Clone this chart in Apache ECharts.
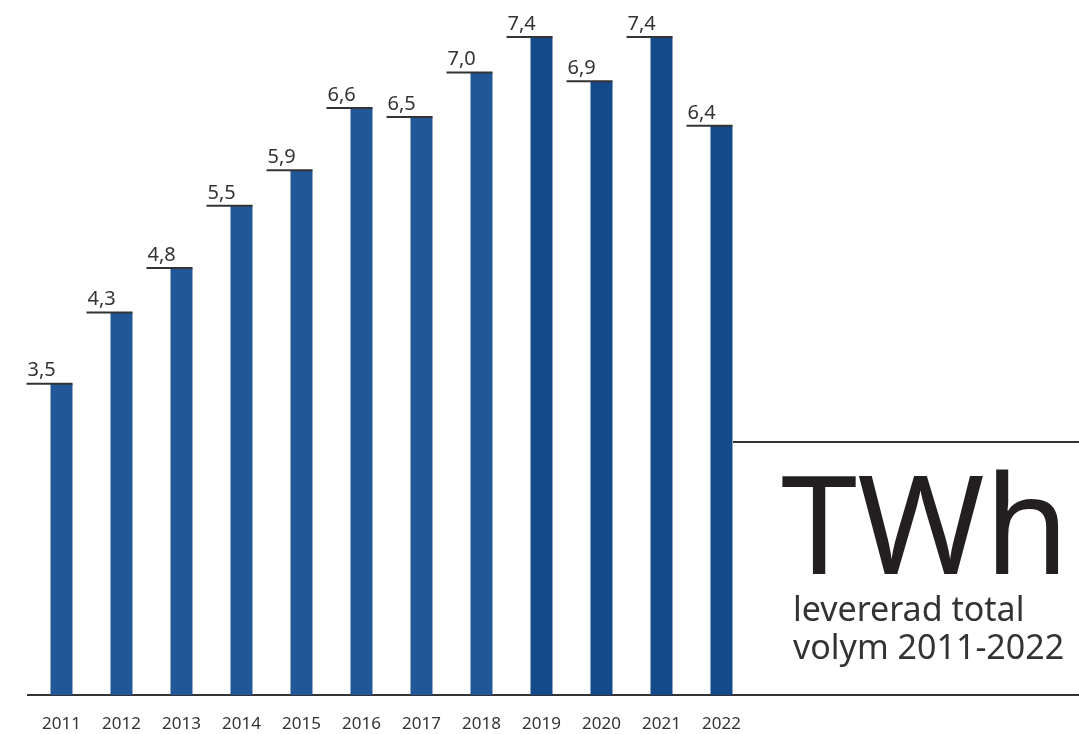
<!DOCTYPE html>
<html>
<head>
<meta charset="utf-8">
<script src="https://cdn.jsdelivr.net/npm/echarts@6/dist/echarts.min.js"></script>
<style>
  html, body { margin: 0; padding: 0; background: #fff; }
  #chart { width: 1079px; height: 734px; }
</style>
</head>
<body>
<div id="chart"></div>
<script>
  // levererad total volym, TWh
  var years = ['2011', '2012', '2013', '2014', '2015', '2016', '2017', '2018', '2019', '2020', '2021', '2022'];
  var volume = [3.5, 4.3, 4.8, 5.5, 5.9, 6.6, 6.5, 7.0, 7.4, 6.9, 7.4, 6.4];

  var lightBlue = '#215797';
  var darkBlue = '#154a8a';
  var ink = '#333333';

  var myChart = echarts.init(document.getElementById('chart'));
  myChart.setOption({
    animation: false,
    grid: { left: 31.5, right: 327.5, top: 28, bottom: 39 },
    xAxis: {
      type: 'category',
      data: years,
      axisLine: { show: false },
      axisTick: { show: false },
      axisLabel: {
        color: ink,
        fontSize: 17,
        fontFamily: 'Noto Sans',
        margin: 21
      }
    },
    yAxis: {
      type: 'value',
      min: 0,
      max: 7.5,
      show: false,
      splitLine: { show: false }
    },
    series: [
      {
        type: 'bar',
        data: volume,
        barWidth: 22,
        itemStyle: {
          color: function (p) { return p.dataIndex >= 8 ? darkBlue : lightBlue; }
        }
      },
      {
        type: 'custom',
        data: volume.map(function (v, i) { return [i, v]; }),
        z: 5,
        renderItem: function (params, api) {
          var p = api.coord([api.value(0), api.value(1)]);
          var txt = api.value(1).toFixed(1).replace('.', ',');
          return {
            type: 'group',
            children: [
              {
                type: 'line',
                shape: { x1: p[0] - 35, y1: p[1], x2: p[0] + 11, y2: p[1] },
                style: { stroke: ink, lineWidth: 2 }
              },
              {
                type: 'text',
                style: {
                  text: txt,
                  x: p[0] - 34,
                  y: p[1] - 3,
                  align: 'left',
                  verticalAlign: 'bottom',
                  fill: ink,
                  font: '20px "Noto Sans"'
                }
              }
            ]
          };
        }
      }
    ],
    graphic: [
      {
        type: 'line',
        shape: { x1: 27, y1: 695, x2: 1079, y2: 695 },
        style: { stroke: ink, lineWidth: 2 }
      },
      {
        type: 'line',
        shape: { x1: 733, y1: 442, x2: 1079, y2: 442 },
        style: { stroke: ink, lineWidth: 2 }
      },
      {
        type: 'text',
        left: 781,
        top: 466,
        style: { text: 'TWh', fill: '#231f20', font: '137px "Noto Sans"' }
      },
      {
        type: 'text',
        left: 793,
        top: 592,
        style: {
          text: 'levererad total\nvolym 2011-2022',
          fill: ink,
          font: '34px "Noto Sans"',
          lineHeight: 38
        }
      }
    ]
  });
</script>
</body>
</html>
